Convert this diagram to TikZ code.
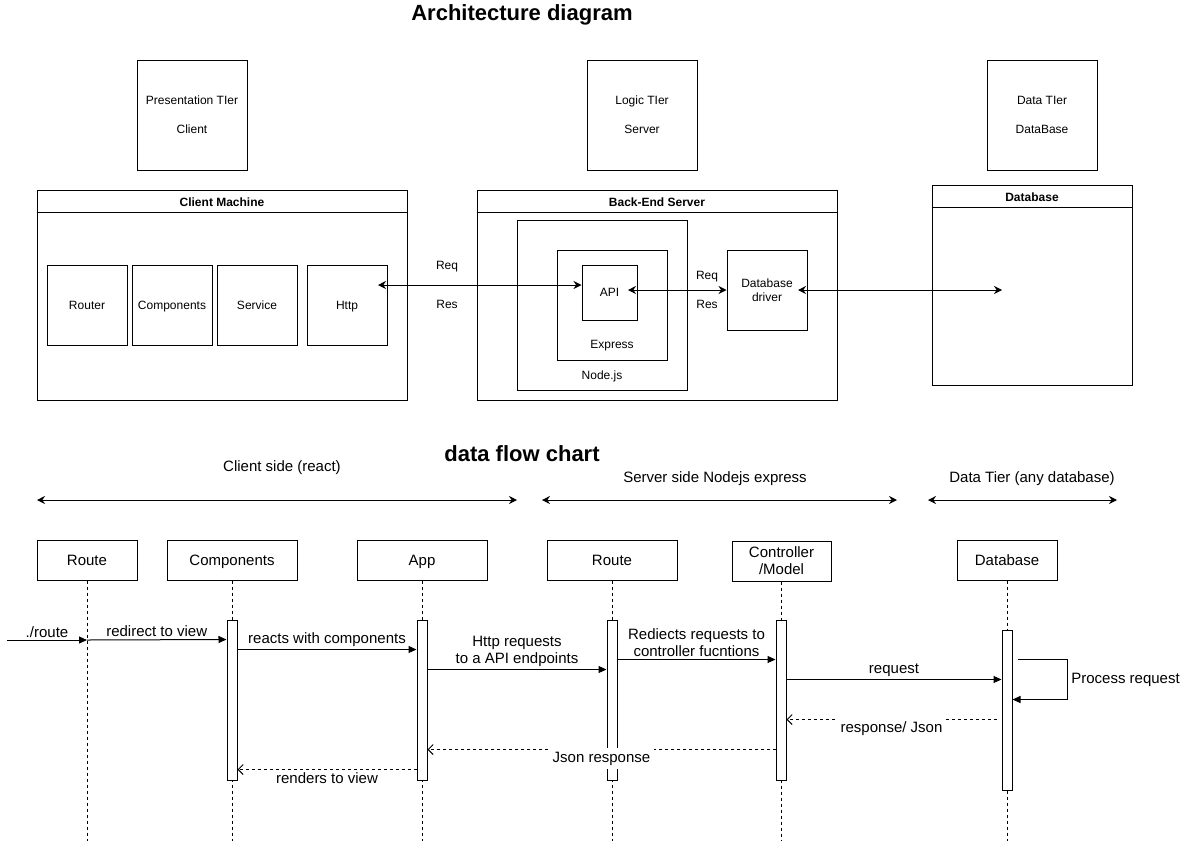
\documentclass[tikz,border=0pt]{standalone}
\usepackage{fontspec}
\setmainfont{Liberation Sans}
\usetikzlibrary{arrows.meta}

\begin{document}
\begin{tikzpicture}[x=1pt, y=-1pt, line width=1pt, font=\fontsize{12}{14}\selectfont,
    >={Stealth[length=8pt,width=8pt]},
    box/.style={draw, align=center, inner sep=1pt},
    flat/.style={text depth=0pt},
    head/.style={font=\fontsize{12}{14}\selectfont\bfseries},
    title/.style={font=\fontsize{22}{26}\selectfont\bfseries},
    msg/.style={-{Triangle[length=8pt,width=7pt]}},
    ret/.style={dashed, -{Straight Barb[length=5pt,width=10pt]}},
    act/.style={draw, fill=white, minimum width=10pt, inner sep=0pt}]

\useasboundingbox (0,0) rectangle (1182,841);

% Architecture diagram
\node[title] (archT) at (522,15) {Architecture diagram};
\node[box, minimum width=110pt, minimum height=110pt] (pres) at (192,115) {Presentation TIer\\[15pt]Client};
\node[box, minimum width=110pt, minimum height=110pt] (logic) at (642,115) {Logic TIer\\[15pt]Server};
\node[box, minimum width=110pt, minimum height=110pt] (data) at (1042,115) {Data TIer\\[15pt]DataBase};

\node[draw, minimum width=370pt, minimum height=210pt, inner sep=0pt] (client) at (222,295) {};
\draw (client.north west) ++(0,23) -- ++(370,0);
\node[head] (clientT) at (222,202) {Client Machine};
\node[box, minimum width=80pt, minimum height=80pt] (router) at (87,305) {Router};
\node[box, flat, minimum width=80pt, minimum height=80pt] (comps) at (172,305) {Components};
\node[box, minimum width=80pt, minimum height=80pt] (service) at (257,305) {Service};
\node[box, flat, minimum width=80pt, minimum height=80pt] (http) at (347,305) {Http};

\node[draw, minimum width=360pt, minimum height=210pt, inner sep=0pt] (server) at (657,295) {};
\draw (server.north west) ++(0,23) -- ++(360,0);
\node[head] (serverT) at (657,202) {Back-End Server};
\node[draw, minimum width=170pt, minimum height=170pt, inner sep=0pt] (nodejs) at (602,305) {};
\node[flat] (nodejsT) at (602,375) {Node.js};
\node[draw, minimum width=110pt, minimum height=110pt, inner sep=0pt] (express) at (612,305) {};
\node[flat] (expressT) at (612,344) {Express};
\node[box, minimum width=55pt, minimum height=55pt] (api) at (609.5,292.5) {API};
\node[box, minimum width=80pt, minimum height=80pt] (driver) at (767,290) {Database\\driver};

\node[draw, minimum width=200pt, minimum height=200pt, inner sep=0pt] (db) at (1032,285) {};
\draw (db.north west) ++(0,23) -- ++(200,0);
\node[head] (dbT) at (1032,197) {Database};

\coordinate (httpEnd) at (378,285);
\coordinate (apiEnd) at (628,290);
\coordinate (drvEnd) at (798,290);
\coordinate (dbEnd) at (1002,290);
\draw[<->] (httpEnd) -- (api.west |- httpEnd);
\node[flat] (req1) at (447,265) {Req};
\node (res1) at (447,304) {Res};
\draw[<->] (apiEnd) -- (driver.west);
\node[flat] (req2) at (707,275) {Req};
\node (res2) at (707,304) {Res};
\draw[<->] (drvEnd) -- (dbEnd);

% data flow chart
\begin{scope}[font=\fontsize{15}{17}\selectfont]
\node[title, flat] (flowT) at (522,454) {data flow chart};
\node[flat] (clientSide) at (282,466) {Client side (react)};
\node[flat] (serverSide) at (715,477) {Server side Nodejs express};
\node[flat] (dataSide) at (1032,477) {Data Tier (any database)};
\coordinate (cs1) at (37,500);
\coordinate (cs2) at (517,500);
\coordinate (ss1) at (542,500);
\coordinate (ss2) at (897,500);
\coordinate (ds1) at (928,500);
\coordinate (ds2) at (1117,500);
\draw[<->] (cs1) -- (cs2);
\draw[<->] (ss1) -- (ss2);
\draw[<->] (ds1) -- (ds2);

\node[box, minimum width=100pt, minimum height=40pt] (lRoute) at (87,560) {Route};
\node[box, flat, minimum width=130pt, minimum height=40pt] (lComp) at (232,560) {Components};
\node[box, flat, minimum width=130pt, minimum height=40pt] (lApp) at (422,560) {App};
\node[box, minimum width=130pt, minimum height=40pt] (lRoute2) at (612,560) {Route};
\node[box, minimum width=99pt, minimum height=40pt] (lCtrl) at (781.5,561) {Controller\\/Model};
\node[box, minimum width=100pt, minimum height=40pt] (lDb) at (1007,560) {Database};

\coordinate (bottom) at (0,841);
\foreach \l in {lRoute,lComp,lApp,lRoute2,lCtrl,lDb}
  \draw[dashed] (\l) -- (\l |- bottom);

\node[act, minimum height=160pt] (aComp) at (232,700) {};
\node[act, minimum height=160pt] (aApp) at (422,700) {};
\node[act, minimum height=160pt] (aRoute) at (612,700) {};
\node[act, minimum height=160pt] (aCtrl) at (781,700) {};
\node[act, minimum height=160pt] (aDb) at (1007,710) {};

\coordinate (start) at (7,640);
\draw[msg] (start) -- node[above=-1pt]{./route} (lRoute |- start);
\draw[msg] (lRoute |- start) -- node[above=-1pt]{redirect to view} ([yshift=-20pt]aComp.north west);
\draw[msg] ([yshift=-30pt]aComp.north east) -- node[above=-1pt]{reacts with components} ([yshift=-30pt]aApp.north west);
\draw[msg] ([yshift=-50pt]aApp.north east) -- node[above=-1pt, align=center]{Http requests\\to a API endpoints} ([yshift=-50pt]aRoute.north west);
\draw[msg] ([yshift=-40pt]aRoute.north east) -- node[above=-1pt, align=center]{Rediects requests to\\controller fucntions} ([yshift=-40pt]aCtrl.north west);
\draw[msg] ([yshift=-60pt]aCtrl.north east) -- node[above=-1pt]{request} ([yshift=-50pt]aDb.north west);
\draw[msg] ([xshift=5pt,yshift=-30pt]aDb.north east) -- ++(50,0) -- node[right]{Process request} ++(0,40) -- ([yshift=-70pt]aDb.north east);
\draw[ret] ([xshift=-5pt,yshift=-90pt]aDb.north west) -- node[fill=white, yshift=-9pt]{response/ Json} ([yshift=-100pt]aCtrl.north east);
\draw[ret] ([yshift=-130pt]aCtrl.north west) -- node[fill=white, yshift=-9pt]{Json response} ([yshift=-130pt]aApp.north east);
\draw[ret] ([yshift=-150pt]aApp.north west) -- node[fill=white, yshift=-9pt]{renders to view} ([yshift=-150pt]aComp.north east);
\end{scope}

\end{tikzpicture}
\end{document}
